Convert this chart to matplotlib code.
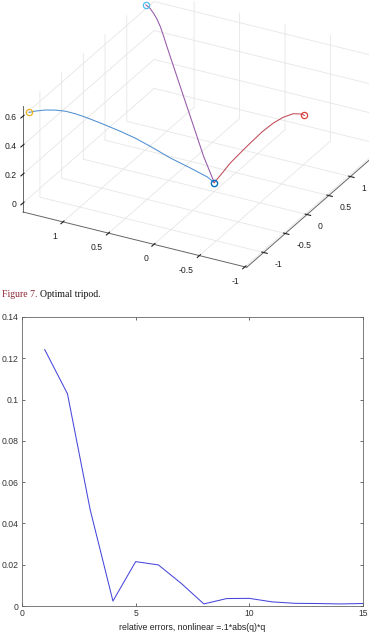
import matplotlib
matplotlib.use('Agg')
import matplotlib.pyplot as plt
from mpl_toolkits.mplot3d import proj3d

# tripod legs, from the hub (0, 0, 0) out to each foot
leg1_x = [0, 0.054, 0.185, 0.337, 0.490, 0.605, 0.720, 0.873, 0.988, 1.065, 1.142, 1.218, 1.295, 1.372, 1.42]
leg1_y = [0, -0.049, -0.168, -0.306, -0.445, -0.550, -0.654, -0.793, -0.898, -0.968, -1.037, -1.107, -1.176, -1.246, -1.29]
leg1_z = [0, 0.044, 0.117, 0.198, 0.291, 0.357, 0.414, 0.484, 0.534, 0.564, 0.588, 0.602, 0.609, 0.608, 0.603]

leg2_x = [0, 0.220, 0.424, 0.630, 0.835, 0.971, 1.041, 1.108, 1.176, 1.246, 1.328, 1.402]
leg2_y = [0, 0.214, 0.412, 0.612, 0.811, 0.943, 1.011, 1.077, 1.143, 1.211, 1.291, 1.362]
leg2_z = [0, 0.092, 0.215, 0.337, 0.460, 0.542, 0.587, 0.624, 0.647, 0.659, 0.663, 0.653]

leg3_x = [0, -0.100, -0.172, -0.278, -0.386, -0.514, -0.632, -0.739, -0.847, -0.940, -0.968]
leg3_y = [0, 0.005, 0.009, 0.014, 0.020, 0.027, 0.033, 0.038, 0.044, 0.048, 0.050]
leg3_z = [0, 0.092, 0.160, 0.244, 0.328, 0.424, 0.500, 0.556, 0.596, 0.607, 0.601]

leg_colors = ['#4f8fd0', '#9457a8', '#c04a58']
foot_colors = ['#EDB120', '#4DBEEE', '#D9413A']
hub_color = '#0072BD'

axis_ticks = [-1, -0.5, 0, 0.5, 1]
axis_ticklabels = ['-1', '-0.5', '0', '0.5', '1']
z_ticks = [0, 0.2, 0.4, 0.6]
z_ticklabels = ['0', '0.2', '0.4', '0.6']

# relative error per step
steps = list(range(1, 16))
rel_errors = [0.1242, 0.1028, 0.0466, 0.0024, 0.0215, 0.0199, 0.0110, 0.0010,
              0.0036, 0.0037, 0.0020, 0.0013, 0.0012, 0.0010, 0.0012]
err_xticks = [0, 5, 10, 15]
err_yticks = [0, 0.02, 0.04, 0.06, 0.08, 0.1, 0.12, 0.14]
err_yticklabels = ['0', '0.02', '0.04', '0.06', '0.08', '0.1', '0.12', '0.14']

W, H = 369, 636
SANS = 'Liberation Sans'
fig = plt.figure(figsize=(W / 100, H / 100), dpi=100)
fig.patch.set_facecolor('white')

# ---------- 3D tripod ----------
XLIM = (1.44, -1.02)
YLIM = (-1.39, 1.63)
ZLIM = (-0.062, 0.67)
ax3 = fig.add_axes([0.0, 0.45, 1.0, 1.0 * W / H], projection='3d')
ax3.set_proj_type('ortho')
ax3.set_xlim(*XLIM)
ax3.set_ylim(*YLIM)
ax3.set_zlim(*ZLIM)
ax3.set_box_aspect((254, 280, 120))
ax3.view_init(elev=27.7, azim=-62)
ax3.patch.set_visible(False)

legs = [(leg1_x, leg1_y, leg1_z), (leg2_x, leg2_y, leg2_z), (leg3_x, leg3_y, leg3_z)]
for (lx, ly, lz), lc, fc in zip(legs, leg_colors, foot_colors):
    ax3.plot(lx, ly, lz, color=lc, lw=0.75)
    ax3.plot([lx[-1]], [ly[-1]], [lz[-1]], 'o', mfc='none', mec=fc, mew=0.9, ms=4.5)
ax3.plot([0], [0], [0], 'o', mfc='none', mec=hub_color, mew=1.0, ms=4.5)

ax3.set_xticks(axis_ticks)
ax3.set_xticklabels(axis_ticklabels)
ax3.set_yticks(axis_ticks)
ax3.set_yticklabels(axis_ticklabels)
ax3.set_zticks(z_ticks)
ax3.set_zticklabels(z_ticklabels)
ax3.zaxis.set_ticks_position('lower')
for axis in (ax3.xaxis, ax3.yaxis, ax3.zaxis):
    axis.set_pane_color((1, 1, 1, 0))
    axis.pane.set_edgecolor('#e3e3e3')
    axis.pane.set_linewidth(0.6)
    axis._axinfo['grid']['color'] = '#e6e6e6'
    axis._axinfo['grid']['linewidth'] = 0.6
    axis._axinfo['tick']['color'] = '#555555'
    axis.line.set_color('#666666')
    axis.line.set_linewidth(0.7)
ax3.tick_params(labelsize=6.2, colors='#222222')
ax3.xaxis.set_tick_params(pad=-1.5)
ax3.yaxis.set_tick_params(pad=-1)
ax3.zaxis.set_tick_params(pad=-5.5)
for t in ax3.xaxis.get_major_ticks():
    t.label1.set_ha('right')
for t in ax3.yaxis.get_major_ticks():
    t.label1.set_ha('left')
for t in ax3.zaxis.get_major_ticks():
    t.label1.set_ha('right')
    t.label1.set_va('center')
for lab in ax3.get_xticklabels() + ax3.get_yticklabels() + ax3.get_zticklabels():
    lab.set_family(SANS)

# fit the drawn box onto the reference placement
def box_px(p):
    x2, y2, _ = proj3d.proj_transform(p[0], p[1], p[2], ax3.get_proj())
    return ax3.transData.transform((x2, y2))

corner_l = (XLIM[0], YLIM[0], ZLIM[0])
corner_f = (XLIM[1], YLIM[0], ZLIM[0])
target_l = (23.0, H - 212.0)
target_f = (246.0, H - 270.0)
for _ in range(3):
    fig.canvas.draw()
    pl, pf = box_px(corner_l), box_px(corner_f)
    dm = ((pf[0] - pl[0]) ** 2 + (pf[1] - pl[1]) ** 2) ** 0.5
    dt = ((target_f[0] - target_l[0]) ** 2 + (target_f[1] - target_l[1]) ** 2) ** 0.5
    sc = dt / dm
    bb = ax3.get_position()
    cx, cy = (bb.x0 + bb.width / 2) * W, (bb.y0 + bb.height / 2) * H
    side = bb.width * W * sc
    ncx = target_l[0] - sc * (pl[0] - cx)
    ncy = target_l[1] - sc * (pl[1] - cy)
    ax3.set_position([(ncx - side / 2) / W, (ncy - side / 2) / H, side / W, side / H])

# caption
cap = fig.text(2 / W, 1 - 295 / H, 'Figure 7.', color='#8e2430', fontsize=7,
               family='Liberation Serif', va='center')
fig.canvas.draw()
ext = cap.get_window_extent()
fig.text((ext.x1 + 2) / W, 1 - 295 / H, 'Optimal tripod.', color='#111111', fontsize=7,
         family='Liberation Serif', va='center')

# ---------- relative errors ----------
ax = fig.add_axes([22 / W, 30 / H, 341 / W, 289 / H])
ax.plot(steps, rel_errors, color='#4646dc', lw=0.75)
ax.set_xlim(0, 15)
ax.set_ylim(0, 0.14)
ax.set_xticks(err_xticks)
ax.set_yticks(err_yticks)
ax.set_yticklabels(err_yticklabels)
ax.tick_params(direction='in', length=2.5, width=0.5, labelsize=6.2, colors='#333333',
               top=True, right=True, pad=2.5)
for lab in ax.get_xticklabels() + ax.get_yticklabels():
    lab.set_family(SANS)
for sp in ax.spines.values():
    sp.set_color('#666666')
    sp.set_linewidth(0.6)
ax.set_xlabel('relative errors, nonlinear =.1*abs(q)*q', fontsize=6.3, color='#222222',
              labelpad=3, family=SANS)

fig.savefig('out.png', dpi=100)
